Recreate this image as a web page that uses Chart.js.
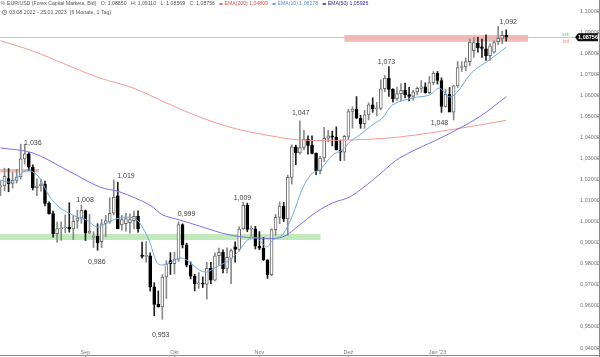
<!DOCTYPE html>
<html><head><meta charset="utf-8">
<script src="https://cdn.jsdelivr.net/npm/chart.js"></script>
<style>html,body{margin:0;padding:0;background:#fff;}#wrap{width:600px;height:357px;position:relative;}</style>
</head><body><div id="wrap"><canvas id="c" width="600" height="357"></canvas></div>
<script>
// ---- Daily candles EUR/USD, 03.08.2022 - 25.01.2023 (index = trading day) ----
const openP = [
1.0166,1.0170,1.0205,1.0182,1.0196,1.0212,1.0298,1.0322,1.0259,1.0161,
1.0170,1.0178,1.0087,1.0038,0.9943,0.9967,0.9970,0.9973,0.9965,1.0002,
1.0017,1.0052,0.9945,0.9925,0.9930,0.9905,0.9990,1.0000,1.0040,1.0122,
0.9985,0.9990,0.9995,1.0005,1.0025,0.9840,0.9835,0.9838,0.9690,0.9607,
0.9595,0.9737,0.9815,0.9801,0.9822,0.9986,0.9890,0.9793,0.9741,0.9705,
0.9708,0.9703,0.9778,0.9722,0.9838,0.9854,0.9778,0.9825,0.9880,0.9868,
0.9965,1.0078,0.9963,0.9966,0.9883,0.9874,0.9819,0.9748,0.9962,1.0020,
1.0074,1.0013,1.0210,1.0355,1.0326,1.0352,1.0392,1.0362,1.0324,1.0242,
1.0302,1.0396,1.0408,1.0401,1.0340,1.0330,1.0405,1.0523,1.0535,1.0491,
1.0465,1.0507,1.0555,1.0536,1.0537,1.0631,1.0682,1.0628,1.0583,1.0608,
1.0623,1.0603,1.0595,1.0616,1.0633,1.0640,1.0612,1.0660,1.0704,1.0670,
1.0547,1.0605,1.0520,1.0645,1.0732,1.0735,1.0760,1.0812,1.0848,1.0830,
1.0820,1.0788,1.0805,1.0855,1.0870,1.0885];
const highP = [
1.0194,1.0254,1.0252,1.0234,1.0249,1.0368,1.0368,1.0328,1.0270,1.0202,
1.0202,1.0192,1.0094,1.0050,0.9998,0.9999,1.0032,1.0090,1.0028,1.0055,
1.0080,1.0055,1.0034,0.9952,0.9990,1.0011,1.0030,1.0113,1.0198,1.0187,
1.0030,1.0040,1.0037,1.0050,1.0051,0.9903,0.9905,0.9852,0.9710,0.9671,
0.9748,0.9815,0.9853,0.9855,0.9999,0.9990,0.9898,0.9809,0.9750,0.9758,
0.9738,0.9807,0.9807,0.9852,0.9875,0.9866,0.9876,0.9870,0.9904,0.9976,
1.0093,1.0088,0.9980,0.9978,0.9953,0.9925,0.9819,0.9966,1.0034,1.0094,
1.0092,1.0221,1.0365,1.0363,1.0479,1.0434,1.0407,1.0407,1.0327,1.0310,
1.0448,1.0433,1.0430,1.0450,1.0387,1.0410,1.0534,1.0545,1.0594,1.0505,
1.0529,1.0564,1.0588,1.0566,1.0673,1.0694,1.0736,1.0632,1.0639,1.0656,
1.0658,1.0638,1.0623,1.0640,1.0670,1.0659,1.0689,1.0713,1.0713,1.0683,
1.0630,1.0637,1.0648,1.0760,1.0760,1.0777,1.0868,1.0874,1.0875,1.0867,
1.0887,1.0845,1.0858,1.0927,1.0905,1.0911];
const lowP = [
1.0123,1.0146,1.0142,1.0160,1.0183,1.0202,1.0273,1.0242,1.0151,1.0123,
1.0145,1.0075,1.0035,0.9926,0.9901,0.9911,0.9948,0.9950,0.9915,0.9968,
0.9992,0.9910,0.9943,0.9877,0.9864,0.9876,0.9929,0.9992,1.0032,0.9966,
0.9960,0.9955,0.9945,0.9966,0.9950,0.9827,0.9807,0.9670,0.9553,0.9594,
0.9536,0.9635,0.9749,0.9751,0.9811,0.9875,0.9785,0.9728,0.9671,0.9683,
0.9687,0.9632,0.9705,0.9718,0.9793,0.9756,0.9755,0.9705,0.9808,0.9860,
0.9963,0.9952,0.9930,0.9870,0.9866,0.9815,0.9730,0.9742,0.9935,0.9990,
1.0000,0.9935,1.0178,1.0271,1.0321,1.0340,1.0320,1.0321,1.0223,1.0226,
1.0286,1.0378,1.0360,1.0340,1.0290,1.0290,1.0390,1.0444,1.0490,1.0443,
1.0443,1.0483,1.0519,1.0502,1.0531,1.0617,1.0595,1.0567,1.0575,1.0573,
1.0588,1.0573,1.0577,1.0602,1.0614,1.0610,1.0607,1.0650,1.0653,1.0519,
1.0544,1.0522,1.0483,1.0637,1.0713,1.0716,1.0740,1.0780,1.0805,1.0780,
1.0766,1.0766,1.0800,1.0840,1.0845,1.0857];
const closeP = [
1.0170,1.0215,1.0180,1.0196,1.0212,1.0298,1.0322,1.0259,1.0161,1.0170,
1.0178,1.0087,1.0038,0.9943,0.9967,0.9970,0.9973,0.9965,1.0002,1.0017,
1.0054,0.9945,0.9955,0.9930,0.9900,0.9990,1.0005,1.0040,1.0115,0.9967,
1.0010,1.0015,1.0010,1.0025,0.9965,0.9835,0.9838,0.9690,0.9607,0.9595,
0.9737,0.9800,0.9801,0.9822,0.9986,0.9890,0.9793,0.9741,0.9705,0.9708,
0.9703,0.9778,0.9722,0.9838,0.9854,0.9775,0.9830,0.9862,0.9868,0.9965,
1.0078,0.9963,0.9966,0.9883,0.9874,0.9819,0.9748,0.9962,1.0020,1.0074,
1.0013,1.0210,1.0355,1.0326,1.0352,1.0392,1.0362,1.0324,1.0242,1.0302,
1.0396,1.0408,1.0401,1.0340,1.0330,1.0405,1.0523,1.0535,1.0491,1.0465,
1.0507,1.0555,1.0536,1.0537,1.0631,1.0682,1.0628,1.0583,1.0608,1.0623,
1.0603,1.0595,1.0616,1.0633,1.0640,1.0612,1.0660,1.0704,1.0670,1.0547,
1.0605,1.0520,1.0645,1.0732,1.0735,1.0760,1.0852,1.0850,1.0825,1.0822,
1.0788,1.0835,1.0850,1.0870,1.0885,1.0876];

// ---- Indicator lines (index, value) ----
const ema10Idx = [0,2.5,4.8,6.5,8,9.7,12.2,14.7,16.4,18.9,21.3,23.8,25.3,27.8,31.2,33.7,35.2,36.9,38.6,39.9,41.8,44.3,46,49.2,51,53.4,56.6,59.1,61.1,63.3,65.8,67.3,69.7,72.2,74.7,77.1,78.9,82.1,84.5,86.3,88.7,91.9,94.4,96.9,101.8,106,108.5,110.9,112.7,116.6,120.8,125];
const ema10Val = [1.0198,1.0188,1.0221,1.0245,1.0236,1.0207,1.0117,1.0065,1.0046,1.0022,1.0008,0.9974,0.9984,1.0008,1.0022,1.0008,0.9970,0.9903,0.9808,0.9794,0.9804,0.9827,0.9818,0.9770,0.9761,0.9785,0.9818,0.9865,0.9913,0.9922,0.9880,0.9913,0.9937,1.0031,1.0160,1.0231,1.0245,1.0316,1.0340,1.0378,1.0411,1.0459,1.0492,1.0554,1.0587,1.0601,1.0634,1.0592,1.0611,1.0710,1.0767,1.0828];
const ema50Idx = [0,8,16.4,24.6,29.5,36.9,40.1,44.3,49.2,56.6,64,69.7,73.9,78.1,82.1,86.3,90.5,94.4,98.6,110.2,118.3,125];
const ema50Val = [1.0350,1.0326,1.0245,1.0164,1.0141,1.0079,1.0032,1.0008,0.9979,0.9937,0.9922,0.9927,0.9984,1.0046,1.0089,1.0117,1.0174,1.0236,1.0302,1.0411,1.0497,1.0593];
const ema200Idx = [0,8,16.4,24.6,32.7,41.1,49.2,57.4,65.8,73.9,86.3,98.6,114.1,125];
const ema200Val = [1.0859,1.0810,1.0744,1.0682,1.0635,1.0563,1.0497,1.0445,1.0411,1.0388,1.0388,1.0402,1.0445,1.0481];

// ---- Axis ticks ----
const yTickVals = [0.94,0.95,0.96,0.97,0.98,0.99,1.00,1.01,1.02,1.03,1.04,1.05,1.06,1.07,1.08,1.09,1.10];
const monthTickIdx = [21,43,64,86,108];
const monthTickLabels = ['Sep','Okt','Nov','Dez',"Jan '23"];

// ---- Annotations ----
const peakText  = ['1,036','1,008','1,019','0,986','0,999','0,953','1,009','1,047','1,073','1,048','1,092'];
const peakIdx   = [8.0,20.9,31.0,23.8,46.0,39.6,59.8,74.2,95.4,108.5,125.5];
const peakPrice = [1.0373,1.0103,1.0217,0.9810,1.0036,0.9463,1.0112,1.0516,1.0758,1.0468,1.0950];
const greenZone = {from:0.9913, to:0.9941, startIdx:-1, endIdx:79.1};
const redZoneLeft = {from:1.0234, to:1.0250, startIdx:-1, endIdx:9.5};
const redZoneRight = {from:1.0854, to:1.0886, startIdx:85.0, endIdx:130.4};
const lastPrice = 1.08756;

// ---- Header legend ----
const headerParts = [
  {t:'EUR/USD (Forex Capital Markets, Bid)', c:'#555'},
  {t:'O: 1,08850', c:'#555'}, {t:'H: 1,09110', c:'#555'},
  {t:'L: 1,08569', c:'#555'}, {t:'C: 1,08756', c:'#555'},
  {t:'EMA(200) 1,04809', c:'#e0504a', sw:true},
  {t:'EMA(10) 1,08278', c:'#5a8fd0', sw:true},
  {t:'EMA(50) 1,05926', c:'#2d2d9a', sw:true}
];
const headerLine2 = '03.08.2022 - 25.01.2023  (6 Monate, 1 Tag)';

const ids = openP.map((_, i) => i);
const up = ids.map(i => closeP[i] >= openP[i]);
const wickData = ids.map(i => ({x:i, y:[lowP[i], highP[i]]}));
const bodyData = ids.map(i => ({x:i, y:[Math.min(openP[i],closeP[i]), Math.max(openP[i],closeP[i])]}));
const line = (ix, vals) => ix.map((x, k) => ({x, y: vals[k]}));

const FONT = '"Liberation Sans", Arial, sans-serif';

const decor = {
  id: 'decor',
  beforeDatasetsDraw(chart) {
    const {ctx, chartArea: a, scales: {x, y}} = chart;
    ctx.save();
    ctx.beginPath(); ctx.rect(a.left, a.top, a.right - a.left, a.bottom - a.top); ctx.clip();
    const zone = (z, col) => {
      const x0 = x.getPixelForValue(z.startIdx), x1 = x.getPixelForValue(z.endIdx);
      const y0 = y.getPixelForValue(z.to), y1 = y.getPixelForValue(z.from);
      ctx.fillStyle = col; ctx.fillRect(x0, y0, x1 - x0, y1 - y0);
    };
    zone(greenZone, 'rgba(150,220,140,0.6)');
    zone(redZoneLeft, 'rgba(225,120,108,0.5)');
    zone(redZoneRight, 'rgba(225,120,108,0.5)');
    const py = Math.round(y.getPixelForValue(lastPrice)) + 0.5;
    ctx.strokeStyle = '#c9cba6'; ctx.lineWidth = 1;
    ctx.beginPath(); ctx.moveTo(a.left, py); ctx.lineTo(a.right, py); ctx.stroke();
    ctx.restore();
  },
  afterDatasetsDraw(chart) {
    const {ctx, scales: {x, y}} = chart;
    ctx.save();
    ctx.font = '7px ' + FONT; ctx.fillStyle = '#444';
    ctx.textAlign = 'center'; ctx.textBaseline = 'middle';
    peakText.forEach((t, k) => ctx.fillText(t, x.getPixelForValue(peakIdx[k]), y.getPixelForValue(peakPrice[k])));
    ctx.restore();
  },
  afterDraw(chart) {
    const {ctx, scales: {x, y}} = chart;
    ctx.save();
    // borders
    ctx.strokeStyle = '#888'; ctx.lineWidth = 1;
    ctx.beginPath(); ctx.moveTo(0, 355.5); ctx.lineTo(600, 355.5); ctx.stroke();
    ctx.beginPath(); ctx.moveTo(599.5, 0); ctx.lineTo(599.5, 357); ctx.stroke();
    ctx.strokeStyle = '#999';
    yTickVals.forEach(v => { const yy = Math.round(y.getPixelForValue(v)) + 0.5; ctx.beginPath(); ctx.moveTo(597, yy); ctx.lineTo(600, yy); ctx.stroke(); });
    monthTickIdx.forEach(v => { const xx = Math.round(x.getPixelForValue(v)) + 0.5; ctx.beginPath(); ctx.moveTo(xx, 355); ctx.lineTo(xx, 357); ctx.stroke(); });
    // ask / bid
    const py = y.getPixelForValue(lastPrice);
    ctx.font = '4.5px ' + FONT; ctx.textAlign = 'left'; ctx.textBaseline = 'middle';
    ctx.fillStyle = '#8cc77e'; ctx.fillText('ask', 562, py - 2.5);
    ctx.fillStyle = '#e48a80'; ctx.fillText('bid', 563, py + 4.5);
    // price tag
    ctx.fillStyle = '#111';
    ctx.beginPath();
    ctx.moveTo(575, py); ctx.lineTo(578, py - 4); ctx.lineTo(598, py - 4);
    ctx.lineTo(598, py + 4); ctx.lineTo(578, py + 4); ctx.closePath(); ctx.fill();
    ctx.fillStyle = '#fff'; ctx.font = 'bold 5.5px ' + FONT; ctx.textAlign = 'center';
    ctx.fillText(lastPrice.toFixed(5).replace('.', ','), 588, py + 0.3);
    // header line 1
    ctx.textAlign = 'left'; ctx.textBaseline = 'middle';
    const L1 = 4, L2 = 12.3;
    ctx.font = '5.2px ' + FONT;
    ctx.fillStyle = '#777'; ctx.fillText('%', 0.5, L1);
    let cx = 7;
    headerParts.forEach(p => {
      if (p.sw) { ctx.fillStyle = p.c; ctx.fillRect(cx, L1 - 0.8, 3.2, 1.6); cx += 5; }
      ctx.fillStyle = p.c; ctx.fillText(p.t, cx, L1);
      cx += ctx.measureText(p.t).width + 4.5;
    });
    // header line 2
    ctx.font = '5.3px ' + FONT; ctx.fillStyle = '#555';
    ctx.fillText(headerLine2, 9, L2);
    ctx.strokeStyle = '#666'; ctx.lineWidth = 0.7;
    ctx.beginPath(); ctx.arc(4.5, L2, 2.2, 0, Math.PI * 2); ctx.stroke();
    ctx.beginPath(); ctx.moveTo(4.5, L2 - 1.4); ctx.lineTo(4.5, L2); ctx.lineTo(5.6, L2); ctx.stroke();
    ctx.restore();
  }
};

new Chart(document.getElementById('c'), {
  type: 'bar',
  data: {
    datasets: [
      {type:'line', label:'EMA(10)', data: line(ema10Idx, ema10Val), borderColor:'#76a9df', borderWidth:1, pointRadius:0, tension:0.35, order:0},
      {type:'line', label:'EMA(50)', data: line(ema50Idx, ema50Val), borderColor:'#7a72e0', borderWidth:1, pointRadius:0, tension:0.35, order:0},
      {type:'line', label:'EMA(200)', data: line(ema200Idx, ema200Val), borderColor:'#f29a94', borderWidth:1, pointRadius:0, tension:0.35, order:0},
      {label:'body', data: bodyData, grouped:false, barThickness:3, minBarLength:1, borderSkipped:false, borderWidth:1,
        backgroundColor: ids.map(i => up[i] ? '#ffffff' : '#000000'),
        borderColor: ids.map(i => up[i] ? '#6a6a6a' : '#000000'), order:1},
      {label:'wick', data: wickData, grouped:false, barThickness:1, borderWidth:0, borderSkipped:false,
        backgroundColor: ids.map(i => up[i] ? '#8a8a8a' : '#222222'), order:2}
    ]
  },
  options: {
    responsive:false, animation:false, devicePixelRatio:1,
    layout:{padding:0},
    plugins:{legend:{display:false}, tooltip:{enabled:false}},
    scales:{
      x:{type:'linear', min:-0.12, max:142, offset:false,
        grid:{display:false, drawTicks:false}, border:{display:false},
        afterBuildTicks(s){ s.ticks = monthTickIdx.map(v => ({value:v})); },
        afterFit(s){ s.height = 9; s.paddingLeft = 0; s.paddingRight = 0; },
        ticks:{padding:1, font:{size:5.5, family:FONT}, color:'#777', maxRotation:0, autoSkip:false,
          callback:(v) => monthTickLabels[monthTickIdx.indexOf(v)] }
      },
      y:{type:'linear', position:'right', min:0.94, max:1.10524,
        grid:{display:false, drawTicks:false}, border:{display:false},
        afterBuildTicks(s){ s.ticks = yTickVals.map(v => ({value:v})); },
        afterFit(s){ s.width = 25; s.paddingTop = 0; s.paddingBottom = 0; },
        ticks:{padding:0, crossAlign:'far', font:{size:5.5, family:FONT}, color:'#777',
          callback:(v) => v.toFixed(5).replace('.', ',') }
      }
    }
  },
  plugins:[decor]
});
</script></body></html>
